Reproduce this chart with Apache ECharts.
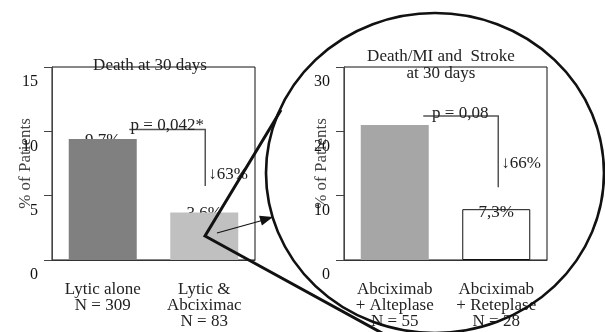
<!DOCTYPE html>
<html>
<head>
<meta charset="utf-8">
<script src="https://cdn.jsdelivr.net/npm/echarts@6/dist/echarts.min.js"></script>
<style>
  html, body { margin: 0; padding: 0; background: #fff; }
  #chart { width: 605px; height: 332px; }
</style>
</head>
<body>
<div id="chart"></div>
<script>
(function() {
  var serif = 'Liberation Serif';
  var ink = '#222';

  // --- data ---
  var leftCats = ['Lytic alone\nN = 309', 'Lytic &\nAbciximac\nN = 83'];
  var leftValues = [9.4, 3.7];
  var leftLabels = ['9,7%', '3,6%'];
  var leftColors = ['#808080', '#c0c0c0'];

  var rightCats = ['Abciximab\n+ Alteplase\nN = 55', 'Abciximab\n+ Reteplase\nN = 28'];
  var rightValues = [21.0, 7.9];
  var rightLabels = ['', '7,3%'];
  var rightColors = ['#a6a6a6', '#ffffff'];

  var axisMax = [15, 30];
  var axisStep = [5, 10];
  var titles = ['Death at 30 days', 'Death/MI and  Stroke\nat 30 days'];
  var pTexts = ['p = 0,042*', 'p = 0,08'];
  var dropTexts = ['\u219363%', '\u219366%'];
  var bracketTop = [10.15, 22.4];
  var bracketEnd = [5.75, 11.3];

  var chart = echarts.init(document.getElementById('chart'), null, { renderer: 'canvas' });

  function xAxis(idx, cats) {
    return {
      type: 'category', gridIndex: idx, data: cats,
      axisLine: { lineStyle: { color: '#333', width: 1 } },
      axisTick: { show: false },
      axisLabel: { color: ink, fontFamily: serif, fontSize: 17, lineHeight: 16, margin: 22, interval: 0 }
    };
  }
  function yAxis(idx, gap) {
    return {
      type: 'value', gridIndex: idx, min: 0, max: axisMax[idx], interval: axisStep[idx],
      name: '% of Patients', nameLocation: 'middle', nameGap: gap, nameMoveOverlap: false,
      nameTextStyle: { color: '#444', fontFamily: serif, fontSize: 17 },
      axisLine: { show: true, lineStyle: { color: '#444', width: 1 } },
      axisTick: { show: true, length: 8, lineStyle: { color: '#444' } },
      axisLabel: { color: '#111', fontFamily: serif, fontSize: 16, margin: 14, verticalAlign: 'top', padding: [7, 0, 0, 0] },
      splitLine: { show: false }
    };
  }

  chart.setOption({
    animation: false,
    textStyle: { fontFamily: serif },
    grid: [
      { left: 52, top: 67, width: 203, height: 193, show: true, borderColor: '#111', borderWidth: 1 },
      { left: 344, top: 67, width: 203, height: 193, show: true, borderColor: '#111', borderWidth: 1 }
    ],
    xAxis: [xAxis(0, leftCats), xAxis(1, rightCats)],
    yAxis: [yAxis(0, 18), yAxis(1, 14)],
    series: [
      {
        // labels sit under the bars so the bar top cuts them
        type: 'bar', xAxisIndex: 0, yAxisIndex: 0, z: 1, barWidth: 68,
        data: leftValues,
        itemStyle: { color: 'rgba(0,0,0,0)' },
        label: {
          show: true, position: 'top', distance: -10, color: ink, fontFamily: serif, fontSize: 17,
          formatter: function(p) { return leftLabels[p.dataIndex]; }
        }
      },
      {
        type: 'bar', xAxisIndex: 0, yAxisIndex: 0, z: 2, barWidth: 68, barGap: '-100%',
        data: leftValues.map(function(v, i) { return { value: v, itemStyle: { color: leftColors[i] } }; })
      },
      {
        type: 'bar', xAxisIndex: 1, yAxisIndex: 1, z: 2, barWidth: 68,
        data: rightValues.map(function(v, i) {
          return { value: v, itemStyle: { color: rightColors[i], borderColor: i === 1 ? '#111' : null, borderWidth: i === 1 ? 1 : 0 } };
        }),
        label: {
          show: true, position: 'top', distance: -12, color: ink, fontFamily: serif, fontSize: 17,
          formatter: function(p) { return rightLabels[p.dataIndex]; }
        }
      }
    ]
  });

  // annotations placed from the axes
  var els = [];
  var titlePos = [[150, 66], [441, 65]];
  var leftEnd = [-76, -75];
  var lineDx = [1, 2];
  var pDy = [-4, -2];
  var dropDy = [-11, -24];
  [0, 1].forEach(function(g) {
    var f = { xAxisIndex: g, yAxisIndex: g };
    var top = chart.convertToPixel(f, [1, bracketTop[g]]);
    var end = chart.convertToPixel(f, [1, bracketEnd[g]]);
    var x = top[0] + lineDx[g];
    els.push({
      type: 'polyline', z: 10,
      shape: { points: [[x + leftEnd[g], top[1]], [x, top[1]], [x, end[1]]] },
      style: { stroke: '#555', lineWidth: 1.5, fill: null }
    });
    els.push({
      type: 'text', z: 11, x: x - 38, y: top[1] + pDy[g],
      style: { text: pTexts[g], fontFamily: serif, fontSize: 17, fill: ink, align: 'center', verticalAlign: 'middle' }
    });
    els.push({
      type: 'text', z: 11, x: x + 3, y: end[1] + dropDy[g],
      style: { text: dropTexts[g], fontFamily: serif, fontSize: 17, fill: ink, align: 'left', verticalAlign: 'middle' }
    });
    els.push({
      type: 'text', z: 11, x: titlePos[g][0], y: titlePos[g][1],
      style: { text: titles[g], fontFamily: serif, fontSize: 17, fill: ink, align: 'center', verticalAlign: 'middle', lineHeight: 17 }
    });
  });

  // magnifier: ellipse, cone and arrow
  els.push({
    type: 'circle', z: 20, x: 435, y: 173, scaleX: 169 / 160, scaleY: 1,
    shape: { cx: 0, cy: 0, r: 160 },
    style: { stroke: '#111', lineWidth: 2.5, fill: null, strokeNoScale: true }
  });
  els.push({
    type: 'polyline', z: 20,
    shape: { points: [[281, 110], [205, 236], [402, 344]] },
    style: { stroke: '#111', lineWidth: 3, fill: null, lineJoin: 'miter' }
  });
  els.push({
    type: 'line', z: 20,
    shape: { x1: 217, y1: 233, x2: 262, y2: 220.5 },
    style: { stroke: '#111', lineWidth: 1.2 }
  });
  els.push({
    type: 'polygon', z: 20,
    shape: { points: [[273, 217], [259.1, 215.8], [261.9, 225.4]] },
    style: { fill: '#111' }
  });

  chart.setOption({ graphic: { elements: els } });
  window.addEventListener('resize', function() { chart.resize(); });
})();
</script>
</body>
</html>
